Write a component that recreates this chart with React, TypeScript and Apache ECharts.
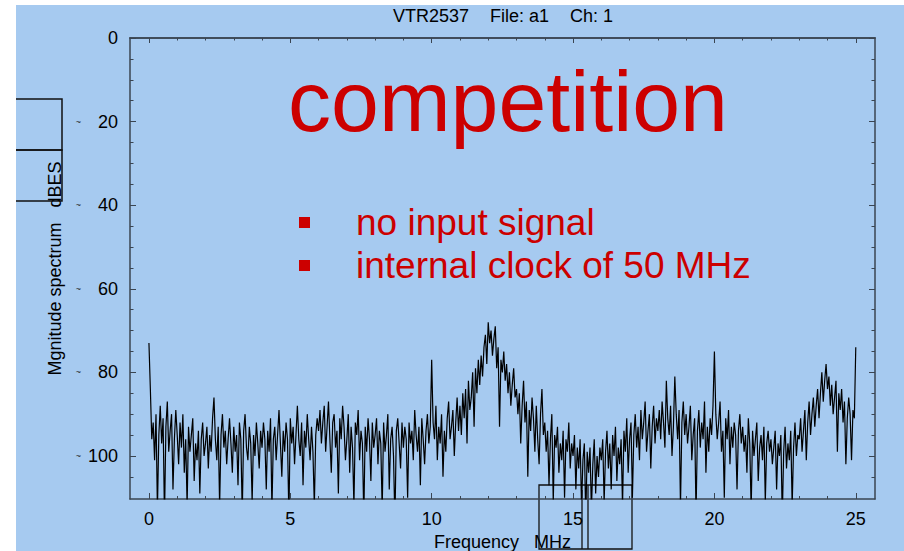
import React, { useEffect, useRef } from "react";
import * as echarts from "echarts";

// ---------------- data ----------------
const FREQ_START = 0; // MHz
const FREQ_STEP = 0.05; // MHz between samples

// Magnitude spectrum (dBFS, shown downward), samples 0.00 .. 25.00 MHz
const magnitude: number[] = [
  // 0 - 1 MHz
  73, 84, 96, 92, 101, 90, 113, 95, 88, 97, 91, 115, 93, 87, 99, 94, 90, 108, 96, 89,
  // 1 - 2
  95, 102, 92, 98, 90, 104, 96, 112, 93, 99, 95, 91, 106, 97, 101, 94, 109, 96, 92, 100,
  // 2 - 3
  97, 93, 103, 95, 99, 91, 86, 96, 101, 93, 112, 95, 90, 98, 94, 102, 96, 91, 97, 104,
  // 3 - 4
  93, 99, 95, 107, 92, 96, 114, 94, 90, 98, 101, 93, 97, 111, 95, 100, 92, 97, 103, 94,
  // 4 - 5
  98, 92, 96, 108, 94, 99, 91, 113, 96, 93, 101, 95, 89, 97, 105, 94, 99, 92, 96, 115,
  // 5 - 6
  91, 97, 93, 102, 95, 88, 96, 100, 92, 107, 94, 98, 90, 96, 101, 93, 99, 112, 95, 91,
  // 6 - 7
  94, 89, 97, 92, 88, 99, 93, 87, 96, 104, 92, 90, 98, 94, 109, 91, 96, 88, 93, 101,
  // 7 - 8
  96, 90, 104, 93, 98, 112, 92, 95, 89, 101, 94, 97, 115, 93, 99, 91, 96, 106, 92, 98,
  // 8 - 9
  95, 91, 102, 94, 97, 113, 92, 99, 95, 90, 108, 96, 93, 100, 116, 94, 91, 97, 103, 92,
  // 9 - 10
  98, 93, 96, 110, 92, 97, 94, 101, 89, 95, 99, 93, 107, 91, 96, 102, 94, 90, 97, 93,
  // 10 - 11
  77, 92, 96, 88, 101, 93, 97, 90, 105, 94, 99, 91, 87, 96, 93, 89, 100, 92, 86, 94,
  // 11 - 12
  88, 95, 85, 91, 84, 97, 82, 89, 86, 80, 93, 79, 85, 77, 83, 76, 81, 74, 71, 78,
  // 12 - 13
  68, 73, 70, 76, 72, 69, 79, 74, 93, 77, 80, 75, 82, 78, 85, 80, 88, 83, 79, 86,
  // 13 - 14
  84, 90, 85, 97, 88, 82, 92, 87, 105, 89, 94, 86, 91, 99, 88, 96, 102, 90, 84, 95,
  // 14 - 15
  92, 99, 94, 107, 96, 90, 111, 95, 98, 93, 104, 97, 101, 94, 110, 96, 99, 92, 103, 97,
  // 15 - 16
  100, 95, 108, 98, 103, 96, 112, 101, 97, 115, 99, 104, 98, 113, 102, 96, 109, 100, 105, 98,
  // 16 - 17
  101, 96, 111, 99, 94, 103, 97, 108, 95, 100, 93, 106, 98, 102, 96, 112, 94, 99, 91, 104,
  // 17 - 18
  96, 92, 110, 95, 90, 98, 93, 101, 89, 96, 92, 87, 99, 94, 90, 103, 93, 88, 97, 91,
  // 18 - 19
  94, 89, 96, 87, 92, 98, 82, 91, 95, 88, 100, 93, 81, 90, 96, 89, 112, 92, 87, 95,
  // 19 - 20
  90, 97, 93, 88, 101, 95, 91, 114, 94, 89, 98, 92, 96, 87, 104, 93, 99, 91, 95, 88,
  // 20 - 21
  75, 90, 96, 92, 87, 99, 94, 110, 91, 96, 89, 102, 93, 98, 92, 95, 108, 94, 90, 97,
  // 21 - 22
  93, 99, 95, 104, 91, 97, 113, 94, 100, 96, 92, 106, 98, 95, 101, 93, 111, 97, 94, 99,
  // 22 - 23
  96, 102, 98, 94, 108, 97, 100, 95, 115, 99, 93, 103, 97, 101, 94, 112, 98, 92, 100, 95,
  // 23 - 24
  96, 91, 99, 94, 89, 101, 92, 87, 95, 90, 86, 93, 88, 84, 91, 85, 80, 87, 82, 78,
  // 24 - 25
  84, 81, 88, 83, 90, 86, 82, 99, 85, 89, 84, 92, 87, 102, 91, 86, 90, 101, 89, 91,
  // 25
  74,
];

const xMajorTicks = [0, 5, 10, 15, 20, 25];
const xMinorTicks = [1, 2, 3, 4, 6, 7, 8, 9, 11, 12, 13, 14, 16, 17, 18, 19, 21, 22, 23, 24];
const yMajorTicks = [0, 20, 40, 60, 80, 100];
const yMinorTicks = [5, 10, 15, 25, 30, 35, 45, 50, 55, 65, 70, 75, 85, 90, 95, 105];
const yMarkTicks = [20, 40, 60, 80, 100];

const TITLE_PARTS = ["VTR2537", "File: a1", "Ch: 1"];
const X_NAME = "Frequency\u00a0\u00a0\u00a0MHz";
const Y_NAME = "Mgnitude spectrum\u00a0\u00a0\u00a0dBES";
const HEADLINE = "competition";
const BULLETS = ["no input signal", "internal clock of 50 MHz"];

// --------------- styling ---------------
const X_MIN = -0.67;
const X_MAX = 25.68;
const Y_MIN = 0;
const Y_MAX = 110.3;
const FONT = "'Liberation Sans', Arial, sans-serif";
const BG = "#a6caf0";
const AXIS = "#3a4552";
const RED = "#cc0000";

function xAxisDef(position: string, ticks: number[], len: number, main: boolean) {
  return {
    type: "value",
    position,
    min: X_MIN,
    max: X_MAX,
    name: main ? X_NAME : "",
    nameLocation: "middle",
    nameGap: 33,
    nameTextStyle: { fontSize: 18, color: "#000", fontFamily: FONT },
    axisLine: { show: main || position === "top", onZero: false, lineStyle: { color: AXIS, width: 1.5 } },
    axisTick: { show: true, inside: true, length: len, customValues: ticks, lineStyle: { color: AXIS, width: 1 } },
    axisLabel: main && position === "bottom"
      ? { show: true, customValues: ticks, fontSize: 18, color: "#000", margin: 11, fontFamily: FONT }
      : { show: false },
    splitLine: { show: false },
  };
}

function yAxisDef(position: string, ticks: number[], len: number, main: boolean, withName: boolean) {
  return {
    type: "value",
    position,
    inverse: true,
    min: Y_MIN,
    max: Y_MAX,
    name: withName ? Y_NAME : "",
    nameLocation: "middle",
    nameGap: 66,
    nameRotate: 90,
    nameTextStyle: { fontSize: 18, color: "#000", fontFamily: FONT },
    axisLine: { show: main, onZero: false, lineStyle: { color: AXIS, width: 1.5 } },
    axisTick: { show: true, inside: true, length: len, customValues: ticks, lineStyle: { color: AXIS, width: 1 } },
    axisLabel: withName
      ? { show: true, customValues: ticks, fontSize: 18, color: "#000", margin: 12, fontFamily: FONT }
      : { show: false },
    splitLine: { show: false },
  };
}

export default function App() {
  const ref = useRef<HTMLDivElement>(null);

  useEffect(() => {
    if (!ref.current) return;
    const chart = echarts.init(ref.current, null, { renderer: "svg" });

    const seriesData = magnitude.map((v, i) => [FREQ_START + i * FREQ_STEP, v]);

    chart.setOption({
      animation: false,
      backgroundColor: BG,
      textStyle: { fontFamily: FONT },
      grid: { left: 130, top: 38, right: 29, bottom: 52, containLabel: false, outerBoundsMode: "none" },
      xAxis: [
        xAxisDef("bottom", xMajorTicks, 6, true),
        xAxisDef("bottom", xMinorTicks, 3, false),
        xAxisDef("top", xMajorTicks, 5, false),
        xAxisDef("top", xMinorTicks, 2.5, false),
      ],
      yAxis: [
        yAxisDef("left", yMajorTicks, 6, true, true),
        yAxisDef("left", yMinorTicks, 3.5, false, false),
        yAxisDef("right", yMajorTicks, 6, true, false),
        yAxisDef("right", yMinorTicks, 3.5, false, false),
        {
          type: "value",
          position: "left",
          offset: 41,
          inverse: true,
          min: Y_MIN,
          max: Y_MAX,
          axisLine: { show: false },
          axisTick: { show: false },
          splitLine: { show: false },
          axisLabel: {
            show: true,
            customValues: yMarkTicks,
            formatter: () => "~",
            fontSize: 9,
            color: "#222",
            margin: 8,
            padding: [0, 0, 22, 0],
          },
        },
      ],
      series: [
        {
          type: "line",
          xAxisIndex: 0,
          yAxisIndex: 0,
          data: seriesData,
          symbol: "none",
          showSymbol: false,
          clip: true,
          silent: true,
          lineStyle: { color: "#000", width: 1.2 },
        },
      ],
      graphic: [
        // title pieces
        { type: "text", x: 393, y: 16, silent: true, style: { text: TITLE_PARTS[0], fontSize: 18, fill: "#000", fontFamily: FONT, verticalAlign: "middle" } },
        { type: "text", x: 490, y: 16, silent: true, style: { text: TITLE_PARTS[1], fontSize: 18, fill: "#000", fontFamily: FONT, verticalAlign: "middle" } },
        { type: "text", x: 570, y: 16, silent: true, style: { text: TITLE_PARTS[2], fontSize: 18, fill: "#000", fontFamily: FONT, verticalAlign: "middle" } },
        // headline
        { type: "text", x: 508, y: 101, silent: true, style: { text: HEADLINE, fontSize: 86, fill: RED, fontFamily: FONT, align: "center", verticalAlign: "middle" } },
        // bullets
        { type: "rect", silent: true, shape: { x: 299, y: 217, width: 11, height: 11 }, style: { fill: RED } },
        { type: "rect", silent: true, shape: { x: 299, y: 260, width: 11, height: 11 }, style: { fill: RED } },
        { type: "text", x: 356, y: 222, silent: true, style: { text: BULLETS[0], fontSize: 37, fill: RED, fontFamily: FONT, verticalAlign: "middle" } },
        { type: "text", x: 356, y: 265, silent: true, style: { text: BULLETS[1], fontSize: 37, fill: RED, fontFamily: FONT, verticalAlign: "middle" } },
        // stray frames on the left
        { type: "rect", silent: true, shape: { x: 6, y: 99, width: 56, height: 51 }, style: { fill: "none", stroke: "#111", lineWidth: 1.5 } },
        { type: "rect", silent: true, shape: { x: 6, y: 150, width: 56, height: 51 }, style: { fill: "none", stroke: "#111", lineWidth: 1.5 } },
        // stray frames at the bottom
        { type: "rect", silent: true, shape: { x: 539, y: 485, width: 93, height: 64 }, style: { fill: "none", stroke: "#111", lineWidth: 1.3 } },
        { type: "line", silent: true, shape: { x1: 582, y1: 490, x2: 582, y2: 549 }, style: { stroke: "#111", lineWidth: 1.3 } },
        { type: "line", silent: true, shape: { x1: 588, y1: 485, x2: 588, y2: 549 }, style: { stroke: "#111", lineWidth: 1.3 } },
        // white page margins
        { type: "rect", silent: true, z: 100, shape: { x: 0, y: 0, width: 16, height: 551 }, style: { fill: "#ffffff" } },
        { type: "rect", silent: true, z: 100, shape: { x: 0, y: 0, width: 904, height: 5 }, style: { fill: "#ffffff" } },
      ],
    });

    return () => chart.dispose();
  }, []);

  return (
    <div style={{ position: "fixed", left: 0, top: 0, width: 904, height: 551, background: "#fff" }}>
      <div ref={ref} style={{ width: 904, height: 551 }} />
    </div>
  );
}
